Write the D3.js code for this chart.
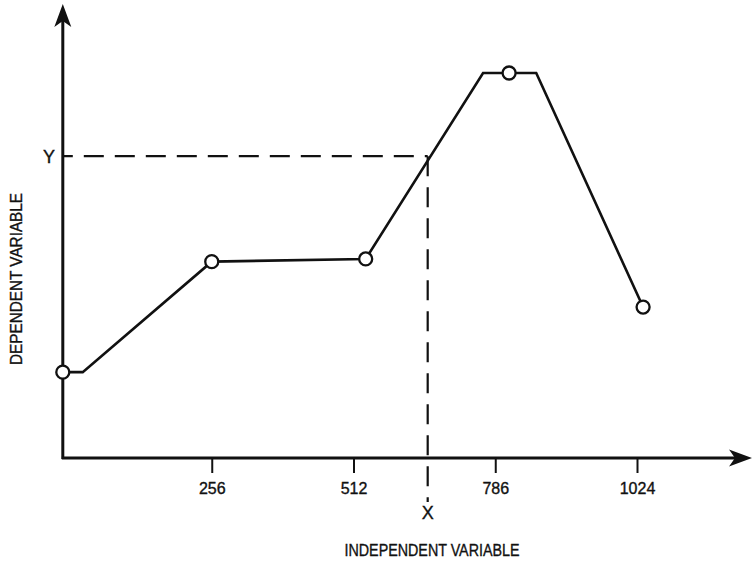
<!DOCTYPE html>
<html>
<head>
<meta charset="utf-8">
<script src="https://cdn.jsdelivr.net/npm/d3@7"></script>
<style>
  body { margin: 0; background: #fff; }
  text { font-family: "Liberation Sans Narrow", "Arial Narrow", "Liberation Sans", sans-serif; fill: #111; stroke: #111; stroke-width: 0.35px; }
</style>
</head>
<body>
<svg width="753" height="561"></svg>
<script>
// tick values on the independent axis and the labels printed under them
const tickValues = [256, 512, 768, 1024];
const tickLabels = ['256', '512', '786', '1024'];

// polyline vertices (independent, dependent)
const lineX = [-13, 23, 256, 534, 746, 842, 1035];
const lineY = [22.3, 22.3, 51, 51.7, 100, 100, 39.2];

// circled sample points
const pointX = [-13, 256, 534, 793, 1035];
const pointY = [22.3, 51, 51.7, 100, 39.2];

// the read-off point (X, Y)
const readX = 646;
const readY = 78.4;

const xMin = -13;

const svg = d3.select('svg');
const x = d3.scaleLinear().domain([0, 1024]).range([70, 637]);
const y = d3.scaleLinear().domain([0, 100]).range([458, 73]);

const ox = x(xMin);
const oy = y(0);

// dashed guide lines
svg.append('line')
  .attr('x1', ox).attr('x2', x(readX))
  .attr('y1', y(readY)).attr('y2', y(readY))
  .attr('stroke', '#111').attr('stroke-width', 2.2)
  .attr('stroke-dasharray', '20,11').attr('stroke-dashoffset', 10);

svg.append('line')
  .attr('x1', x(readX)).attr('x2', x(readX))
  .attr('y1', y(readY)).attr('y2', 502)
  .attr('stroke', '#111').attr('stroke-width', 2.2)
  .attr('stroke-dasharray', '20,11');

// axes with arrow heads
svg.append('line')
  .attr('x1', ox).attr('x2', ox).attr('y1', oy + 1).attr('y2', 20)
  .attr('stroke', '#111').attr('stroke-width', 3);
svg.append('line')
  .attr('x1', ox - 1).attr('x2', 740).attr('y1', oy).attr('y2', oy)
  .attr('stroke', '#111').attr('stroke-width', 3);

svg.append('path')
  .attr('d', `M${ox},4 L${ox + 8.5},27 L${ox},21 L${ox - 8.5},27 Z`)
  .attr('fill', '#111');
svg.append('path')
  .attr('d', `M752,${oy} L729,${oy - 8.5} L735,${oy} L729,${oy + 8.5} Z`)
  .attr('fill', '#111');

// ticks
const axis = d3.axisBottom(x)
  .tickValues(tickValues)
  .tickFormat((d, i) => tickLabels[i])
  .tickSize(15)
  .tickPadding(10);

const gx = svg.append('g')
  .attr('transform', `translate(0,${oy})`)
  .call(axis);
gx.select('.domain').remove();
gx.selectAll('.tick line').attr('stroke', '#111').attr('stroke-width', 2);
gx.selectAll('.tick text')
  .attr('fill', '#111')
  .style('font-size', '16px')
  .style('font-family', '"Liberation Sans Narrow", "Arial Narrow", "Liberation Sans", sans-serif');

// data curve
const line = d3.line()
  .x((d) => x(d[0]))
  .y((d) => y(d[1]));

svg.append('path')
  .datum(lineX.map((v, i) => [v, lineY[i]]))
  .attr('d', line)
  .attr('fill', 'none')
  .attr('stroke', '#111')
  .attr('stroke-width', 2.6)
  .attr('stroke-linejoin', 'miter');

svg.selectAll('.pt')
  .data(pointX.map((v, i) => [v, pointY[i]]))
  .enter().append('circle')
  .attr('class', 'pt')
  .attr('cx', (d) => x(d[0]))
  .attr('cy', (d) => y(d[1]))
  .attr('r', 6.5)
  .attr('fill', '#fff')
  .attr('stroke', '#111')
  .attr('stroke-width', 2.3);

// labels
svg.append('text')
  .attr('x', 49).attr('y', y(readY))
  .attr('dy', '0.36em')
  .attr('text-anchor', 'middle')
  .style('font-size', '18px')
  .text('Y');

svg.append('text')
  .attr('x', x(readX)).attr('y', 513)
  .attr('dy', '0.36em')
  .attr('text-anchor', 'middle')
  .style('font-size', '18px')
  .text('X');

svg.append('text')
  .attr('x', 432).attr('y', 556)
  .attr('text-anchor', 'middle')
  .attr('textLength', 175)
  .attr('lengthAdjust', 'spacingAndGlyphs')
  .style('font-size', '17px')
  .text('INDEPENDENT VARIABLE');

svg.append('text')
  .attr('transform', 'translate(22,279) rotate(-90)')
  .attr('text-anchor', 'middle')
  .attr('textLength', 172)
  .attr('lengthAdjust', 'spacingAndGlyphs')
  .style('font-size', '17px')
  .text('DEPENDENT VARIABLE');
</script>
</body>
</html>
